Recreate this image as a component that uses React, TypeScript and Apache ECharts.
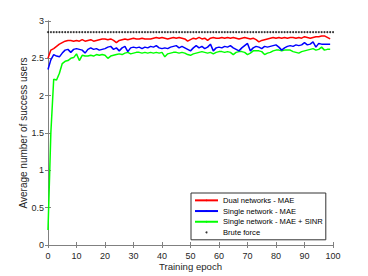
import React, { useEffect, useRef } from "react";
import * as echarts from "echarts";

const dualMAE = [
  2.50, 2.61, 2.63, 2.66, 2.69, 2.71, 2.73, 2.74, 2.74, 2.73,
  2.74, 2.73, 2.75, 2.73, 2.74, 2.75, 2.73, 2.74, 2.75, 2.76,
  2.76, 2.75, 2.76, 2.74, 2.71, 2.74, 2.75, 2.76, 2.75, 2.76,
  2.77, 2.76, 2.76, 2.77, 2.76, 2.76, 2.76, 2.77, 2.78, 2.77,
  2.78, 2.77, 2.76, 2.77, 2.78, 2.77, 2.78, 2.77, 2.76, 2.73,
  2.75, 2.77, 2.76, 2.78, 2.76, 2.77, 2.74, 2.77, 2.78, 2.77,
  2.77, 2.78, 2.77, 2.78, 2.77, 2.78, 2.77, 2.76, 2.77, 2.78,
  2.77, 2.76, 2.77, 2.75, 2.72, 2.74, 2.75, 2.76, 2.77, 2.78,
  2.77, 2.78, 2.77, 2.78, 2.77, 2.78, 2.78, 2.77, 2.78, 2.77,
  2.79, 2.78, 2.77, 2.78, 2.79, 2.79, 2.80, 2.80, 2.78, 2.76,
];

const singleMAE = [
  2.35, 2.48, 2.55, 2.53, 2.52, 2.57, 2.61, 2.62, 2.58, 2.62,
  2.63, 2.62, 2.61, 2.57, 2.62, 2.64, 2.62, 2.63, 2.61, 2.62,
  2.63, 2.65, 2.66, 2.62, 2.64, 2.60, 2.64, 2.66, 2.59, 2.64,
  2.65, 2.64, 2.65, 2.63, 2.65, 2.64, 2.66, 2.65, 2.67, 2.64,
  2.63, 2.64, 2.63, 2.65, 2.66, 2.67, 2.64, 2.66, 2.64, 2.62,
  2.60, 2.64, 2.67, 2.64, 2.66, 2.63, 2.65, 2.69, 2.60, 2.64,
  2.65, 2.64, 2.66, 2.65, 2.67, 2.64, 2.62, 2.60, 2.64, 2.67,
  2.70, 2.60, 2.64, 2.66, 2.65, 2.63, 2.66, 2.65, 2.66, 2.67,
  2.68, 2.65, 2.61, 2.64, 2.66, 2.67, 2.66, 2.68, 2.67, 2.68,
  2.71, 2.68, 2.69, 2.72, 2.65, 2.70, 2.69, 2.69, 2.69, 2.69,
];

const singleMAESINR = [
  0.20, 1.50, 2.22, 2.21, 2.30, 2.43, 2.46, 2.47, 2.50, 2.51,
  2.56, 2.47, 2.54, 2.53, 2.53, 2.54, 2.53, 2.55, 2.54, 2.55,
  2.54, 2.50, 2.53, 2.54, 2.55, 2.56, 2.55, 2.57, 2.58, 2.56,
  2.57, 2.58, 2.58, 2.57, 2.58, 2.57, 2.58, 2.57, 2.58, 2.57,
  2.58, 2.52, 2.56, 2.57, 2.58, 2.58, 2.57, 2.58, 2.57, 2.55,
  2.54, 2.56, 2.57, 2.58, 2.59, 2.58, 2.57, 2.58, 2.56, 2.58,
  2.59, 2.59, 2.58, 2.59, 2.58, 2.55, 2.58, 2.59, 2.59, 2.58,
  2.55, 2.57, 2.60, 2.60, 2.60, 2.59, 2.55, 2.57, 2.58, 2.60,
  2.61, 2.61, 2.60, 2.61, 2.61, 2.61, 2.59, 2.58, 2.57, 2.59,
  2.60, 2.61, 2.62, 2.63, 2.61, 2.62, 2.65, 2.61, 2.62, 2.62,
];

const bruteForceValue = 2.85;
const bruteForceEpochs = Array.from({ length: 101 }, (_, i) => i);

const seriesNames = [
  "Dual networks - MAE",
  "Single network - MAE",
  "Single network - MAE + SINR",
  "Brute force",
];

const FONT = "'Liberation Sans', Arial, Helvetica, sans-serif";

export default function App() {
  const ref = useRef<HTMLDivElement>(null);

  useEffect(() => {
    if (!ref.current) return;
    const chart = echarts.init(ref.current, undefined, { renderer: "svg" });
    const toPairs = (arr: number[]) => arr.map((v, i) => [i, v]);
    const axisColor = "#808080";
    const textColor = "#262626";

    const option: any = {
      animation: false,
      backgroundColor: "#fff",
      textStyle: { fontFamily: FONT },
      grid: { left: 48, right: 35, top: 21, bottom: 30 },
      legend: {
        orient: "vertical",
        left: 191,
        top: 193,
        padding: [2, 3, 2, 3],
        itemWidth: 23,
        itemHeight: 2,
        itemGap: 0,
        backgroundColor: "#fff",
        borderColor: "#333",
        borderWidth: 1,
        borderRadius: 0,
        data: seriesNames,
        textStyle: {
          fontFamily: FONT,
          fontSize: 7.6,
          color: "#000",
          lineHeight: 10.7,
        },
      },
      xAxis: [
        {
          type: "value",
          min: 0,
          max: 100,
          interval: 10,
          name: "Training epoch",
          nameLocation: "middle",
          nameGap: 16,
          nameMoveOverlap: false,
          nameTextStyle: { fontFamily: FONT, fontSize: 9.6, color: textColor },
          axisLine: { show: true, lineStyle: { color: axisColor, width: 1 } },
          axisTick: { show: true, inside: true, length: 3, lineStyle: { color: axisColor } },
          axisLabel: { fontFamily: FONT, fontSize: 9, color: textColor, margin: 6 },
          splitLine: { show: false },
        },
        {
          type: "value",
          position: "top",
          min: 0,
          max: 100,
          interval: 10,
          axisLine: { show: true, lineStyle: { color: axisColor, width: 1 } },
          axisTick: { show: true, inside: true, length: 3, lineStyle: { color: axisColor } },
          axisLabel: { show: false },
          splitLine: { show: false },
        },
      ],
      yAxis: [
        {
          type: "value",
          min: 0,
          max: 3,
          interval: 0.5,
          name: "Average number of success users",
          nameLocation: "middle",
          nameGap: 20,
          nameMoveOverlap: false,
          nameTextStyle: { fontFamily: FONT, fontSize: 10, color: textColor },
          axisLine: { show: true, lineStyle: { color: axisColor, width: 1 } },
          axisTick: { show: true, inside: true, length: 3, lineStyle: { color: axisColor } },
          axisLabel: { fontFamily: FONT, fontSize: 9, color: textColor, margin: 4 },
          splitLine: { show: false },
        },
        {
          type: "value",
          position: "right",
          min: 0,
          max: 3,
          interval: 0.5,
          axisLine: { show: true, lineStyle: { color: axisColor, width: 1 } },
          axisTick: { show: true, inside: true, length: 3, lineStyle: { color: axisColor } },
          axisLabel: { show: false },
          splitLine: { show: false },
        },
      ],
      series: [
        {
          name: seriesNames[0],
          type: "line",
          symbol: "none",
          data: toPairs(dualMAE),
          lineStyle: { color: "#ff0000", width: 1.5 },
          itemStyle: { color: "#ff0000" },
          z: 4,
        },
        {
          name: seriesNames[1],
          type: "line",
          symbol: "none",
          data: toPairs(singleMAE),
          lineStyle: { color: "#0000ff", width: 1.5 },
          itemStyle: { color: "#0000ff" },
          z: 3,
        },
        {
          name: seriesNames[2],
          type: "line",
          symbol: "none",
          data: toPairs(singleMAESINR),
          lineStyle: { color: "#00ff00", width: 1.5 },
          itemStyle: { color: "#00ff00" },
          z: 2,
        },
        {
          name: seriesNames[3],
          type: "scatter",
          symbol: "circle",
          symbolSize: 2,
          data: bruteForceEpochs.map((e) => [e, bruteForceValue]),
          itemStyle: { color: "#000" },
          z: 5,
        },
      ],
    };

    chart.setOption(option);
    return () => chart.dispose();
  }, []);

  return (
    <div
      ref={ref}
      style={{ position: "fixed", left: 0, top: 0, width: 368, height: 276, background: "#fff" }}
    />
  );
}
